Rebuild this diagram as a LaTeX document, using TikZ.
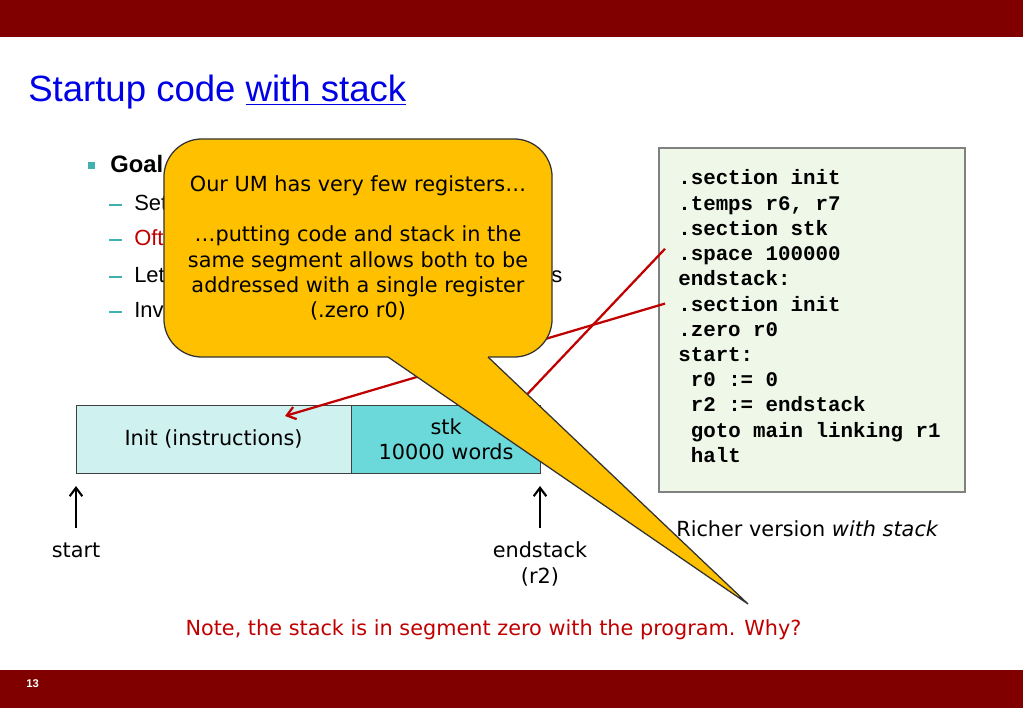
\documentclass[tikz,border=0pt]{standalone}
\usepackage{fontspec}
\usepackage{tikz}
\usetikzlibrary{arrows.meta}
\setmainfont{DejaVu Sans}
\newfontfamily\slidefont{Liberation Sans}
\newfontfamily\codefont{Liberation Mono}
\definecolor{barred}{RGB}{128,0,0}
\definecolor{titleblue}{RGB}{0,0,230}
\definecolor{bullteal}{RGB}{64,176,176}
\definecolor{notered}{RGB}{192,0,0}
\definecolor{codegreen}{RGB}{239,247,233}
\definecolor{boxgray}{RGB}{128,128,128}
\definecolor{initcyan}{RGB}{207,241,240}
\definecolor{stkcyan}{RGB}{107,217,217}
\definecolor{calloutorange}{RGB}{255,192,0}

\begin{document}
\begin{tikzpicture}[x=0.025cm,y=-0.025cm,
		txt/.style={font=\fontsize{14.8}{17.9}\selectfont},
		sub/.style={anchor=base west,inner sep=0pt,font=\slidefont\fontsize{15.6}{18}\selectfont},
		codeline/.style={anchor=base west,inner xsep=0.325cm,inner ysep=0pt,font=\codefont\bfseries\fontsize{14.8}{17.9}\selectfont},
		memcell/.style={draw=black!75,minimum height=1.7cm,inner sep=0pt,txt,align=center},
		uparrow/.style={line width=1.5pt,-{Straight Barb[length=6pt,width=9pt]}},
		redarrow/.style={draw=notered,line width=1.6pt,-{Straight Barb[length=6pt,width=9pt]}}]
			\useasboundingbox (0,0) rectangle (1023,708);
			% bars
			\fill[barred] (0,0) rectangle (1023,37);
			\fill[barred] (0,670) rectangle (1023,708);
			\node[anchor=west,inner sep=0pt,text=white,font=\slidefont\bfseries\fontsize{8}{9}\selectfont] (pagenum) at (26,684) {13};
			\node[anchor=base west,inner sep=0pt,text=titleblue,font=\slidefont\fontsize{26}{30}\selectfont] (title) at (28,102) {Startup code \underline{with stack}};
			% bullets
			\fill[bullteal] (88,162) rectangle (95,169);
			\node[anchor=base west,inner sep=0pt,font=\slidefont\bfseries\fontsize{16.9}{20}\selectfont] (goal) at (110,173) {Goal};
			\foreach \yy/\word/\col [count=\k] in {210/Set/black,245/Oft/notered,282/Let/black,317/Inv/black} {
				\draw[bullteal,line width=1.4pt] (109,\yy-5) -- (122,\yy-5);
				\node[sub,text=\col] (sub\k) at (134,\yy) {\word};
			}
			\node[sub] (letend) at (551,282) {s};
			% code
			\node[draw=boxgray,fill=codegreen,line width=1.3pt,anchor=north west,inner sep=0pt,minimum width=7.65cm,minimum height=8.6cm] (codebox) at (658,147) {};
			\foreach \ind/\code [count=\i] in {0/.section init,0/{.temps r6, r7},0/.section stk,0/.space 100000,0/endstack:,0/.section init,0/.zero r0,0/start:,1/r0 := 0,1/r2 := endstack,1/goto main linking r1,1/halt} {
				\node[codeline] (c\i) at (665+\ind*12.5,185+\i*25.2-25.2) {\code};
			}
			\node[anchor=base west,inner sep=0pt,txt] (richer) at (676,536) {Richer version \textit{with stack}};
			% memory
			\node[memcell,fill=initcyan,minimum width=6.875cm] (init) at (213.5,439) {Init (instructions)};
			\node[memcell,fill=stkcyan,minimum width=4.725cm,anchor=west] (stk) at (init.east) {stk\\10000 words};
			\node[txt,anchor=base] (startlbl) at (76,557) {start};
			\node[txt,anchor=base] (endlbl) at (540,557) {endstack};
			\node[txt,anchor=base] (r2lbl) at (540,583) {(r2)};
			\coordinate (startfoot) at (76,528);
			\coordinate (starthead) at (76,486);
			\coordinate (endfoot) at (540,528);
			\coordinate (endhead) at (540,486);
			\draw[uparrow] (startfoot) -- (starthead);
			\draw[uparrow] (endfoot) -- (endhead);
			\coordinate (stkhit) at (518,404);
			\coordinate (inithit) at (285,416);
			\draw[redarrow] ([yshift=0.175cm]c4.west) -- (stkhit);
			\draw[redarrow] (c6.west) -- (inithit);
			% callout
			\node[draw=black!80,line width=0.9pt,fill=calloutorange,rounded corners=0.95cm,minimum width=9.7cm,minimum height=5.45cm,inner sep=0pt,txt,align=center] (bubble) at (358,248) {Our UM has very few registers…\\[17.9pt]…putting code and stack in the\\same segment allows both to be\\addressed with a single register\\(.zero r0)};
			\coordinate (tip) at (748,604);
			\fill[calloutorange] (388,355) -- (388,357) -- (tip) -- (488,357) -- (488,355) -- cycle;
			\draw[black!80,line width=0.9pt] (388,357) -- (tip) -- (488,357);
			\node[txt,text=notered] (note) at (493.5,630) {Note, the stack is in segment zero with the program. Why?};
		\end{tikzpicture}
\end{document}
